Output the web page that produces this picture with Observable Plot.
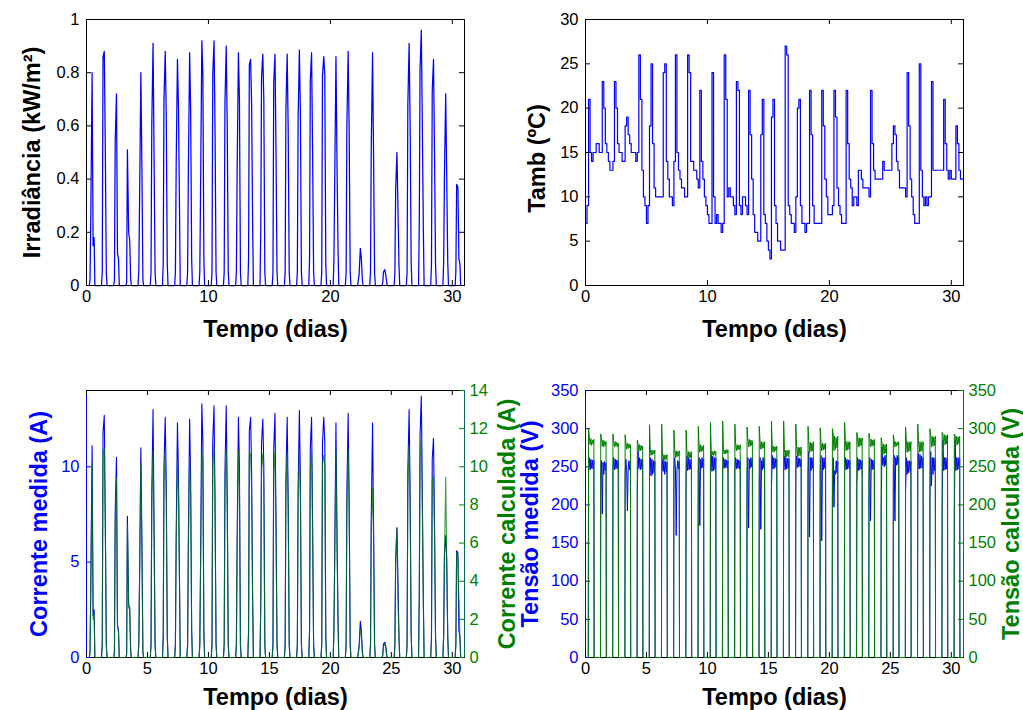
<!DOCTYPE html>
<html>
<head>
<meta charset="utf-8">
<script src="https://cdn.jsdelivr.net/npm/d3@7"></script>
<script src="https://cdn.jsdelivr.net/npm/@observablehq/plot@0.6"></script>
<style>
html, body { margin: 0; padding: 0; background: #fff; }
#wrap { position: relative; width: 1023px; height: 710px; overflow: hidden; background: #fff; }
</style>
</head>
<body>
<div id="wrap"></div>
<script>
// ---------------- DATA ----------------
const xDomain = [0, 31];
const xTicksTop = [0, 10, 20, 30];
const xTicksBottom = [0, 5, 10, 15, 20, 25, 30];
const irrTicks = [0, 0.2, 0.4, 0.6, 0.8, 1];
const tambTicks = [0, 5, 10, 15, 20, 25, 30];
const curLeftTicks = [0, 5, 10];
const curRightTicks = [0, 2, 4, 6, 8, 10, 12, 14];
const voltTicks = [0, 50, 100, 150, 200, 250, 300, 350];

const xLabel = "Tempo (dias)";
const irrLabel = "Irradiância (kW/m²)";
const tambLabel = "Tamb (ºC)";
const curMedLabel = "Corrente medida (A)";
const curCalcLabel = "Corrente calculada (A)";
const voltMedLabel = "Tensão medida (V)";
const voltCalcLabel = "Tensão calculada (V)";

// sample hours within each day
const sunHours = [5.5, 7, 8.5, 11, 13, 15, 16.5];
const tambHours = [0, 3, 6, 9, 12, 15, 18, 21];
const voltHours = [5.5, 6, 7.5, 9, 10.5, 12, 13.5, 15, 16.5, 17];

// irradiance (kW/m2), one row per day
const irradiance = [
  [0, 0.02, 0.27, 0.80, 0.15, 0.18, 0],
  [0, 0.05, 0.86, 0.88, 0.52, 0.05, 0],
  [0, 0.02, 0.54, 0.72, 0.12, 0.10, 0],
  [0, 0.01, 0.51, 0.20, 0.17, 0.02, 0],
  [0, 0.06, 0.32, 0.80, 0.45, 0.02, 0],
  [0, 0.05, 0.60, 0.91, 0.48, 0.05, 0],
  [0, 0.08, 0.70, 0.88, 0.63, 0.08, 0],
  [0, 0.05, 0.45, 0.85, 0.67, 0.30, 0],
  [0, 0.05, 0.43, 0.875, 0.66, 0.10, 0],
  [0, 0.05, 0.35, 0.92, 0.80, 0.10, 0],
  [0, 0.05, 0.79, 0.92, 0.58, 0.05, 0],
  [0, 0.05, 0.68, 0.90, 0.60, 0.05, 0],
  [0, 0.05, 0.43, 0.875, 0.70, 0.05, 0],
  [0, 0.10, 0.83, 0.85, 0.68, 0.22, 0],
  [0, 0.20, 0.78, 0.87, 0.70, 0.05, 0],
  [0, 0.05, 0.76, 0.87, 0.50, 0.05, 0],
  [0, 0.05, 0.66, 0.87, 0.58, 0.05, 0],
  [0, 0.05, 0.62, 0.885, 0.65, 0.05, 0],
  [0, 0.10, 0.77, 0.875, 0.50, 0.05, 0],
  [0, 0.05, 0.79, 0.86, 0.79, 0.08, 0],
  [0, 0.10, 0.38, 0.86, 0.47, 0.15, 0],
  [0, 0.05, 0.60, 0.88, 0.58, 0.05, 0],
  [0, 0.02, 0.04, 0.14, 0.10, 0.02, 0],
  [0, 0.05, 0.52, 0.875, 0.49, 0.05, 0],
  [0, 0.01, 0.05, 0.06, 0.04, 0.01, 0],
  [0, 0.05, 0.36, 0.50, 0.29, 0.08, 0],
  [0, 0.05, 0.68, 0.91, 0.60, 0.09, 0],
  [0, 0.23, 0.81, 0.96, 0.60, 0.21, 0],
  [0, 0.08, 0.73, 0.85, 0.49, 0.08, 0],
  [0, 0.09, 0.41, 0.72, 0.41, 0.09, 0],
  [0, 0.05, 0.38, 0.37, 0.10, 0.08, 0]
];

// ambient temperature (ºC), one row per day
const tamb = [
  [7, 9, 21, 15, 14, 15, 15, 16],
  [16, 15, 15, 23, 20, 16, 15, 14],
  [13, 13, 14, 23, 20, 16, 15, 15],
  [14, 14, 18, 19, 17, 16, 15, 15],
  [15, 14, 15, 26, 21, 13, 10, 9],
  [7, 9, 18, 25, 16, 11, 10, 10],
  [10, 10, 10, 24, 25, 14, 12, 10],
  [10, 9, 14, 26, 15, 13, 12, 11],
  [11, 10, 10, 26, 24, 14, 14, 13],
  [13, 12, 11, 22, 14, 12, 10, 9],
  [8, 7, 7, 24, 10, 7, 8, 7],
  [7, 6, 7, 26, 21, 10, 11, 10],
  [10, 9, 8, 23, 22, 9, 8, 10],
  [10, 9, 8, 22, 17, 12, 8, 6],
  [6, 5, 5, 17, 21, 8, 7, 5],
  [4, 3, 19, 21, 9, 7, 5, 5],
  [4, 4, 4, 27, 26, 9, 8, 7],
  [7, 6, 10, 20, 21, 9, 7, 7],
  [6, 7, 7, 22, 17, 9, 7, 7],
  [7, 7, 7, 22, 18, 12, 10, 8],
  [8, 8, 9, 22, 19, 11, 9, 8],
  [7, 7, 7, 22, 16, 12, 11, 9],
  [10, 10, 9, 13, 13, 12, 11, 11],
  [11, 11, 10, 22, 16, 13, 12, 12],
  [12, 12, 12, 14, 13, 13, 13, 13],
  [13, 16, 18, 17, 14, 13, 11, 11],
  [11, 11, 10, 24, 18, 12, 10, 8],
  [7, 7, 7, 25, 13, 10, 9, 10],
  [9, 10, 10, 23, 13, 13, 13, 13],
  [13, 13, 13, 21, 16, 13, 12, 13],
  [12, 12, 12, 18, 16, 13, 12, 12]
];
const tambEnd = [12]; // value at the end of day 31

// measured current (A)
const currentMeasured = [
  [0, 0.3, 4.1, 11.1, 2.2, 2.5, 0],
  [0, 0.7, 11.8, 12.7, 7.2, 0.7, 0],
  [0, 0.3, 7.7, 10.5, 1.7, 1.4, 0],
  [0, 0.2, 7.4, 2.8, 2.5, 0.3, 0],
  [0, 0.8, 4.4, 11.0, 6.3, 0.3, 0],
  [0, 0.7, 8.6, 13.0, 6.9, 0.7, 0],
  [0, 1.1, 10.0, 12.6, 9.0, 1.1, 0],
  [0, 0.7, 6.4, 12.3, 9.6, 4.3, 0],
  [0, 0.7, 6.2, 12.5, 9.4, 1.4, 0],
  [0, 0.7, 5.0, 13.3, 11.4, 1.4, 0],
  [0, 0.7, 11.3, 13.2, 8.3, 0.7, 0],
  [0, 0.7, 9.7, 13.2, 8.6, 0.7, 0],
  [0, 0.7, 6.2, 12.6, 10.0, 0.7, 0],
  [0, 1.4, 11.9, 12.6, 9.7, 3.1, 0],
  [0, 2.9, 11.2, 12.5, 10.0, 0.7, 0],
  [0, 0.7, 10.9, 12.8, 7.2, 0.7, 0],
  [0, 0.7, 9.4, 12.6, 8.3, 0.7, 0],
  [0, 0.7, 8.9, 12.95, 9.3, 0.7, 0],
  [0, 1.4, 11.0, 12.6, 7.2, 0.7, 0],
  [0, 0.7, 11.3, 12.6, 11.3, 1.1, 0],
  [0, 1.4, 5.4, 12.3, 6.7, 2.1, 0],
  [0, 0.7, 8.6, 12.8, 8.3, 0.7, 0],
  [0, 0.3, 0.6, 1.9, 1.4, 0.3, 0],
  [0, 0.7, 7.4, 12.3, 7.0, 0.7, 0],
  [0, 0.1, 0.7, 0.8, 0.6, 0.1, 0],
  [0, 0.7, 5.2, 6.8, 4.1, 1.1, 0],
  [0, 0.7, 9.8, 13.0, 8.6, 1.3, 0],
  [0, 3.3, 11.6, 13.7, 8.6, 3.0, 0],
  [0, 1.1, 10.4, 11.5, 7.0, 1.1, 0],
  [0, 1.2, 5.4, 6.4, 5.0, 1.1, 0],
  [0, 0.7, 5.6, 5.5, 1.4, 1.1, 0]
];

// calculated current (A)
const currentCalculated = [
  [0, 0.2, 3.6, 10.2, 2.0, 2.3, 0],
  [0, 0.6, 10.7, 11.0, 6.8, 0.6, 0],
  [0, 0.3, 7.0, 9.4, 1.6, 1.3, 0],
  [0, 0.1, 7.0, 2.6, 2.7, 0.3, 0],
  [0, 0.7, 4.2, 10.2, 5.8, 0.3, 0],
  [0, 0.6, 7.8, 10.85, 6.2, 0.6, 0],
  [0, 1.0, 9.2, 10.8, 8.2, 1.0, 0],
  [0, 0.6, 5.8, 10.4, 8.7, 3.9, 0],
  [0, 0.6, 5.6, 10.6, 8.5, 1.3, 0],
  [0, 0.6, 4.5, 10.8, 10.3, 1.3, 0],
  [0, 0.6, 10.1, 11.2, 7.4, 0.6, 0],
  [0, 0.6, 8.7, 10.9, 7.7, 0.6, 0],
  [0, 0.6, 5.5, 10.85, 9.0, 0.6, 0],
  [0, 1.3, 10.6, 10.7, 8.7, 2.8, 0],
  [0, 2.6, 10.0, 10.7, 9.0, 0.6, 0],
  [0, 0.6, 9.7, 10.8, 6.4, 0.6, 0],
  [0, 0.6, 8.4, 10.8, 7.4, 0.6, 0],
  [0, 0.6, 7.9, 10.85, 8.3, 0.6, 0],
  [0, 1.3, 9.9, 10.85, 6.4, 0.6, 0],
  [0, 0.6, 10.1, 10.6, 10.1, 1.0, 0],
  [0, 1.3, 4.9, 10.8, 6.0, 1.9, 0],
  [0, 0.6, 7.7, 10.9, 7.4, 0.6, 0],
  [0, 0.2, 0.5, 1.5, 1.2, 0.2, 0],
  [0, 0.6, 6.7, 8.9, 6.3, 0.6, 0],
  [0, 0.1, 0.6, 0.7, 0.5, 0.1, 0],
  [0, 0.6, 4.8, 6.8, 3.0, 1.0, 0],
  [0, 0.6, 8.8, 11.1, 7.7, 1.2, 0],
  [0, 3.0, 10.4, 11.6, 7.7, 2.7, 0],
  [0, 1.0, 9.3, 9.5, 6.3, 1.0, 0],
  [0, 1.2, 5.2, 9.45, 5.2, 1.1, 0],
  [0, 0.6, 5.5, 5.3, 3.1, 1.0, 0]
];

// measured voltage (V)
const voltageMeasured = [
  [0, 250, 262, 246, 260, 248, 259, 247, 258, 0],
  [0, 240, 258, 188, 256, 240, 257, 245, 255, 0],
  [0, 245, 262, 246, 260, 247, 259, 248, 258, 0],
  [0, 240, 260, 245, 192, 247, 258, 246, 257, 0],
  [0, 219, 270, 248, 262, 246, 260, 247, 259, 0],
  [0, 236, 262, 238, 260, 240, 258, 242, 257, 0],
  [0, 240, 260, 244, 258, 240, 257, 243, 256, 0],
  [0, 245, 262, 248, 160, 246, 258, 247, 257, 0],
  [0, 240, 264, 245, 262, 246, 260, 247, 259, 0],
  [0, 245, 262, 173, 260, 248, 262, 249, 260, 0],
  [0, 240, 266, 244, 264, 245, 262, 246, 261, 0],
  [0, 245, 262, 248, 260, 249, 259, 248, 258, 0],
  [0, 245, 262, 247, 260, 248, 259, 247, 258, 0],
  [0, 240, 262, 170, 260, 248, 262, 250, 261, 0],
  [0, 230, 262, 168, 258, 246, 262, 248, 260, 0],
  [0, 219, 265, 247, 262, 248, 261, 249, 260, 0],
  [0, 245, 264, 246, 262, 247, 261, 248, 260, 0],
  [0, 245, 264, 249, 262, 250, 261, 250, 260, 0],
  [0, 240, 270, 158, 262, 245, 262, 248, 261, 0],
  [0, 245, 265, 153, 262, 246, 262, 248, 261, 0],
  [0, 210, 262, 197, 245, 240, 258, 242, 257, 0],
  [0, 245, 262, 246, 260, 247, 259, 248, 258, 0],
  [0, 223, 262, 245, 260, 246, 259, 247, 258, 0],
  [0, 235, 262, 179, 260, 246, 259, 247, 258, 0],
  [0, 192, 276, 252, 262, 250, 265, 252, 263, 0],
  [0, 250, 265, 179, 262, 252, 265, 253, 263, 0],
  [0, 216, 262, 240, 258, 242, 258, 244, 257, 0],
  [0, 245, 268, 247, 266, 248, 264, 249, 262, 0],
  [0, 210, 270, 225, 262, 240, 262, 245, 261, 0],
  [0, 188, 285, 245, 262, 246, 262, 247, 261, 0],
  [0, 188, 285, 245, 262, 246, 262, 247, 261, 0]
];

// calculated voltage (V)
const voltageCalculated = [
  [0, 300, 289, 279, 287, 278, 285, 280, 286, 0],
  [0, 293, 287, 277, 285, 276, 284, 278, 283, 0],
  [0, 293, 284, 276, 283, 277, 282, 276, 281, 0],
  [0, 292, 282, 273, 281, 274, 280, 275, 279, 0],
  [0, 285, 280, 270, 279, 271, 278, 272, 277, 0],
  [0, 305, 273, 265, 272, 266, 271, 267, 272, 0],
  [0, 306, 267, 258, 266, 259, 265, 260, 266, 0],
  [0, 298, 273, 262, 271, 263, 270, 264, 271, 0],
  [0, 298, 271, 260, 270, 261, 269, 262, 270, 0],
  [0, 303, 280, 269, 279, 270, 277, 271, 278, 0],
  [0, 308, 271, 265, 270, 265, 271, 266, 270, 0],
  [0, 310, 273, 267, 272, 267, 273, 268, 272, 0],
  [0, 306, 280, 271, 279, 272, 278, 273, 279, 0],
  [0, 302, 287, 276, 286, 277, 285, 278, 284, 0],
  [0, 303, 284, 273, 283, 274, 282, 275, 283, 0],
  [0, 310, 278, 269, 277, 270, 276, 271, 277, 0],
  [0, 310, 273, 262, 272, 263, 271, 264, 272, 0],
  [0, 306, 278, 262, 276, 264, 275, 265, 276, 0],
  [0, 303, 284, 269, 282, 270, 281, 271, 283, 0],
  [0, 301, 282, 271, 281, 272, 280, 273, 281, 0],
  [0, 300, 293, 271, 290, 273, 288, 275, 290, 0],
  [0, 308, 284, 271, 283, 272, 282, 273, 283, 0],
  [0, 295, 289, 276, 288, 277, 287, 278, 288, 0],
  [0, 294, 287, 276, 286, 277, 285, 278, 286, 0],
  [0, 288, 282, 265, 280, 267, 279, 268, 280, 0],
  [0, 292, 284, 276, 283, 277, 282, 278, 283, 0],
  [0, 302, 284, 269, 283, 270, 282, 271, 283, 0],
  [0, 306, 284, 269, 283, 270, 282, 271, 283, 0],
  [0, 300, 291, 276, 290, 277, 289, 278, 290, 0],
  [0, 295, 293, 278, 292, 279, 291, 280, 292, 0],
  [0, 293, 291, 278, 290, 279, 289, 280, 290, 0]
];

// ---------------- BUILD TABLES ----------------
function series(rows, hours) {
  const out = [];
  rows.forEach((vals, day) => vals.forEach((v, i) => out.push({t: day + hours[i] / 24, v})));
  return out;
}
const irrData = series(irradiance, sunHours);
const tambData = series(tamb, tambHours);
tambEnd.forEach(v => tambData.push({t: tamb.length, v}));
const curMedData = series(currentMeasured, sunHours);
const curCalcData = series(currentCalculated, sunHours);
const voltMedData = series(voltageMeasured, voltHours);
const voltCalcData = series(voltageCalculated, voltHours);

// ---------------- LAYOUT / STYLE ----------------
const W = 1023, H = 710;
const BLUE = "#0000ff", GREEN = "#008000";
const FONT = "'Liberation Sans', Arial, Helvetica, sans-serif";
const TICK = 5, TITLE_SIZE = 23.5;
const boxes = {
  tl: {l: 86, r: 464, t: 19, b: 285},
  tr: {l: 585, r: 963, t: 19, b: 285},
  bl: {l: 86, r: 464, t: 390, b: 657},
  br: {l: 585, r: 963, t: 390, b: 657}
};

function plotIn(box, yDomain, marks, overlay) {
  return Plot.plot({
    width: W, height: H,
    marginLeft: box.l, marginRight: W - box.r, marginTop: box.t, marginBottom: H - box.b,
    x: overlay ? {domain: xDomain, axis: null} : {domain: xDomain},
    y: {domain: yDomain},
    style: {position: "absolute", left: "0px", top: "0px", background: "transparent",
            fontFamily: FONT, fontSize: "16.5px", overflow: "visible", color: "black"},
    marks
  });
}
const fmt = d => String(d);
function xTickMarks(box, ticks) {
  const fh = box.b - box.t;
  return [
    Plot.tickX(ticks, {x: d => d, insetTop: fh - TICK, stroke: "black"}),
    Plot.tickX(ticks, {x: d => d, insetBottom: fh - TICK, stroke: "black"}),
    Plot.axisX(ticks, {tickSize: 0, tickPadding: 5, tickFormat: fmt, label: null, fill: "black"})
  ];
}
function yTickMarks(box, ticks, side, color, mirror) {
  const fw = box.r - box.l;
  const m = [];
  if (side === "left" || mirror) m.push(Plot.tickY(ticks, {y: d => d, insetRight: fw - TICK, stroke: side === "left" ? color : "black"}));
  if (side === "right" || mirror) m.push(Plot.tickY(ticks, {y: d => d, insetLeft: fw - TICK, stroke: side === "right" ? color : "black"}));
  m.push(Plot.axisY(ticks, {anchor: side, tickSize: 0, tickPadding: side === "left" ? 7 : 5, tickFormat: fmt, label: null, fill: color}));
  return m;
}
function title(text, anchor, dx, dy, color, rotate) {
  return Plot.text([text], {text: d => d, frameAnchor: anchor, dx, dy, rotate: rotate || 0,
    textAnchor: "middle", lineAnchor: "middle",
    fontSize: TITLE_SIZE, fontWeight: "bold", fill: color});
}

const wrap = document.getElementById("wrap");

// Top-left: irradiance
{
  const b = boxes.tl;
  wrap.append(plotIn(b, [0, 1], [
    Plot.line(irrData, {x: "t", y: "v", stroke: BLUE, strokeWidth: 1.25}),
    Plot.frame({stroke: "black"}),
    ...xTickMarks(b, xTicksTop),
    ...yTickMarks(b, irrTicks, "left", "black", true),
    title(xLabel, "bottom", 0, 44, "black"),
    title(irrLabel, "left", -54, 0, "black", -90)
  ]));
}
// Top-right: ambient temperature
{
  const b = boxes.tr;
  wrap.append(plotIn(b, [0, 30], [
    Plot.line(tambData, {x: "t", y: "v", stroke: BLUE, strokeWidth: 1.2, curve: "step-after"}),
    Plot.frame({stroke: "black"}),
    ...xTickMarks(b, xTicksTop),
    ...yTickMarks(b, tambTicks, "left", "black", true),
    title(xLabel, "bottom", 0, 44, "black"),
    title(tambLabel, "left", -48, 6, "black", -90)
  ]));
}
// Bottom-left: currents
{
  const b = boxes.bl;
  const yd = [0, 14];
  wrap.append(plotIn(b, yd, [
    Plot.line(curMedData, {x: "t", y: "v", stroke: BLUE, strokeWidth: 1.1}),
    Plot.frame({stroke: "black"}),
    Plot.ruleX([xDomain[0]], {x: d => d, stroke: BLUE}),
    ...xTickMarks(b, xTicksBottom),
    ...yTickMarks(b, curLeftTicks, "left", BLUE, false),
    title(xLabel, "bottom", 0, 40, "black"),
    title(curMedLabel, "left", -47, 0, BLUE, -90)
  ]));
  wrap.append(plotIn(b, yd, [
    Plot.line(curCalcData, {x: "t", y: "v", stroke: GREEN, strokeWidth: 1.1, strokeOpacity: 0.75}),
    Plot.ruleX([xDomain[1]], {x: d => d, stroke: "#0a6a5a"}),
    ...yTickMarks(b, curRightTicks, "right", GREEN, false),
    title(curCalcLabel, "right", 43, 0, GREEN, -90)
  ], true));
}
// Bottom-right: voltages
{
  const b = boxes.br;
  const yd = [0, 350];
  wrap.append(plotIn(b, yd, [
    Plot.line(voltMedData, {x: "t", y: "v", stroke: BLUE, strokeWidth: 1}),
    Plot.frame({stroke: "black"}),
    Plot.ruleX([xDomain[0]], {x: d => d, stroke: BLUE}),
    ...xTickMarks(b, xTicksBottom),
    ...yTickMarks(b, voltTicks, "left", BLUE, false),
    title(xLabel, "bottom", 0, 40, "black"),
    title(voltMedLabel, "left", -55, 0, BLUE, -90)
  ]));
  wrap.append(plotIn(b, yd, [
    Plot.line(voltCalcData, {x: "t", y: "v", stroke: GREEN, strokeWidth: 1}),
    Plot.ruleX([xDomain[1]], {x: d => d, stroke: GREEN}),
    ...yTickMarks(b, voltTicks, "right", GREEN, false),
    title(voltCalcLabel, "right", 48, 0, GREEN, -90)
  ], true));
}
</script>
</body>
</html>
